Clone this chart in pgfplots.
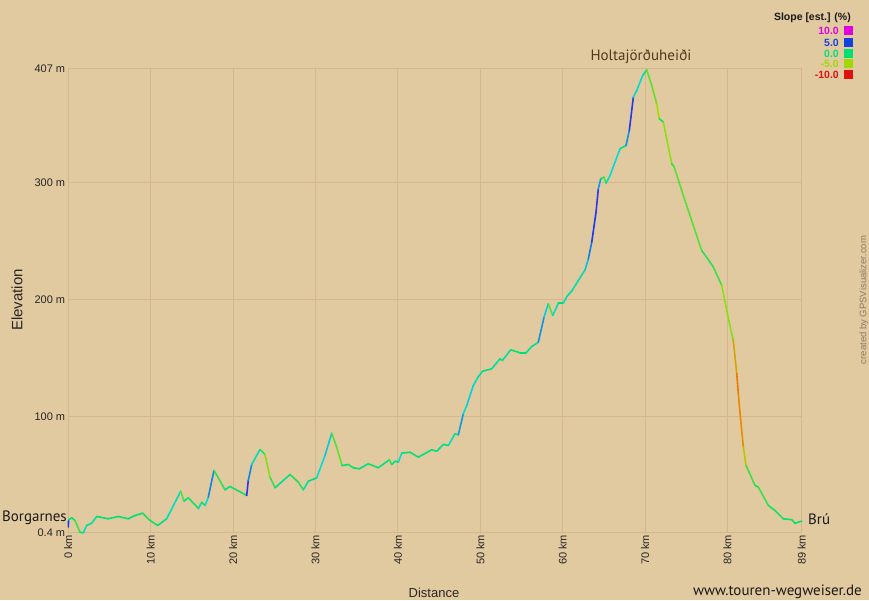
\documentclass[border=0pt]{standalone}
\usepackage{pgfplots}
\pgfplotsset{compat=1.18}
\usepackage{pgfplotstable}
\usepackage{fontspec}
\setmainfont{Liberation Sans}
\newfontfamily\hum{PT Sans}
\definecolor{bgtan}{RGB}{226,202,160}
\definecolor{gridc}{RGB}{212,183,140}
\definecolor{lgmag}{RGB}{224,0,224}
\definecolor{lgblue}{RGB}{20,64,224}
\definecolor{lggreen}{RGB}{0,224,112}
\definecolor{lgyg}{RGB}{160,216,0}
\definecolor{lgred}{RGB}{224,16,16}
\definecolor{brownt}{RGB}{80,56,30}
\definecolor{credit}{RGB}{140,124,100}

\pgfplotstableread{
x y s
0.00 5.4 4.5
0.04 11.5 0.5
0.41 13.3 -0.6
0.81 11.0 -1.7
1.42 0.9 -0.1
1.82 0.4 1.5
2.23 6.7 0.3
2.84 8.6 0.9
3.45 14.4 -0.1
4.85 12.4 0.2
6.07 14.4 -0.2
7.28 12.4 0.3
8.09 15.2 0.2
9.03 17.2 -0.7
9.92 11.0 -0.5
10.85 6.7 0.5
11.94 12.4 1.4
13.64 36.0 -2.1
14.04 27.5 0.6
14.56 30.4 -0.7
15.58 22.9 -1.0
15.78 21.0 1.4
16.19 26.6 -0.7
16.59 23.8 1.8
16.99 30.9 3.3
17.68 53.8 -1.2
18.20 47.5 -1.3
19.02 37.2 0.5
19.62 40.1 -0.4
21.65 32.4 5.2
21.84 45.2 3.3
22.26 58.9 1.3
23.26 71.7 -0.7
23.87 67.5 -3.2
24.48 48.0 -1.5
25.09 39.0 0.6
26.91 50.3 -0.7
27.91 43.8 -1.1
28.52 37.2 1.2
29.13 44.6 0.3
30.15 47.5 1.9
31.15 66.6 2.3
31.97 85.7 -2.0
32.57 73.7 -2.4
33.22 58.0 0.1
33.98 58.9 -0.5
34.59 56.1 -0.1
35.32 55.2 0.4
36.41 59.5 -0.3
37.62 56.1 0.5
38.96 62.9 -1.4
39.25 58.9 0.7
39.65 61.7 -0.2
40.05 60.9 1.9
40.46 68.6 0.1
41.47 69.4 -0.4
42.48 65.2 0.4
44.10 71.5 -0.2
44.71 70.3 0.7
45.51 76.0 -0.1
46.12 75.2 1.2
46.93 85.2 -0.2
47.33 84.3 3.0
47.94 102.3 1.7
48.35 109.4 2.2
48.75 118.0 2.1
49.15 126.5 1.3
49.76 134.2 0.9
50.29 138.8 0.2
51.38 140.8 0.9
52.39 149.4 -0.5
52.67 147.9 0.9
53.69 157.1 -0.2
54.82 154.5 0.0
55.55 154.5 0.8
56.24 159.9 0.5
57.04 163.6 3.1
57.73 185.0 2.2
58.25 196.5 -1.9
58.79 186.5 1.5
59.47 197.0 0.0
60.07 197.0 1.4
60.49 202.7 0.8
61.09 207.3 1.1
61.89 216.4 1.1
62.71 225.6 2.4
63.11 235.0 3.5
63.52 249.2 4.6
64.04 274.9 5.3
64.32 294.9 3.0
64.61 303.5 0.4
65.01 304.9 -2.1
65.26 299.7 1.4
65.74 306.3 1.9
66.95 329.2 0.4
67.68 332.0 3.2
68.08 344.9 5.0
68.57 373.4 1.4
68.98 379.1 1.8
69.71 392.0 1.0
70.19 396.8 -2.2
70.80 383.4 -2.6
71.41 367.7 -4.1
71.72 354.9 -0.6
72.21 352.0 -3.5
73.23 316.4 -0.9
73.51 314.0 -2.2
74.44 293.5 -2.1
75.24 276.4 -2.1
75.78 265.0 -2.1
76.87 242.1 -1.0
77.88 232.1 -1.1
78.28 227.8 -1.5
79.30 212.2 -3.6
79.90 190.8 -3.3
80.51 170.8 -3.0
80.70 165.1 -6.0
81.12 136.6 -7.3
81.31 119.4 -7.0
81.60 96.6 -6.8
81.92 73.7 -4.8
82.25 58.0 -1.6
83.34 40.9 -0.4
83.74 39.5 -1.3
84.95 23.8 -0.5
85.76 19.5 -0.7
86.77 12.4 -0.1
87.79 11.6 -0.8
88.19 8.6 0.2
89.00 10.4 0
}\profile

\begin{document}
\begin{tikzpicture}[x=1pt,y=1pt]
\fill[bgtan] (0,0) rectangle (869,600);
\useasboundingbox (0,0) rectangle (869,600);
\begin{axis}[
  at={(68.3pt,67.2pt)}, anchor=south west,
  scale only axis, width=733.4pt, height=464pt,
  xmin=0, xmax=89, ymin=0.4, ymax=397.7,
  axis line style={gridc, line width=1pt},
  grid=major, major grid style={gridc, line width=1pt},
  major tick length=0pt,
  xtick={0,10,20,30,40,50,60,70,80,89},
  xticklabels={0 km,10 km,20 km,30 km,40 km,50 km,60 km,70 km,80 km,89 km},
  ytick={0.4,100,200,300,397.7},
  yticklabels={0.4 m,100 m,200 m,300 m,407 m},
  xticklabel style={rotate=90, anchor=east, font=\fontsize{11}{13}\selectfont, text=black!85, inner sep=2pt},
  yticklabel style={anchor=east, font=\fontsize{11}{13}\selectfont, text=black!85, inner sep=3pt},
  colormap={slope}{rgb255(0cm)=(230,0,0) rgb255(3cm)=(235,135,0) rgb255(6cm)=(160,224,0) rgb255(10cm)=(0,224,112) rgb255(12cm)=(0,220,220) rgb255(14.5cm)=(20,60,240) rgb255(20cm)=(224,0,224)},
  point meta min=-10, point meta max=10,
  clip=false,
]
\addplot[mesh, shader=flat corner, line width=1.6pt, line cap=round, line join=round, point meta=explicit] table[x=x, y=y, meta=s] {\profile};
\end{axis}
% texts
\node[rotate=90, font=\fontsize{15}{17}\selectfont, text=black!85] at (17,300) {Elevation};
\node[font=\fontsize{13}{15}\selectfont, text=black!85] at (434,7) {Distance};
\node[anchor=east, font=\hum\fontsize{15}{17}\selectfont, text=black!90, inner sep=0pt] at (67,82) {Borgarnes};
\node[anchor=west, font=\hum\fontsize{15}{17}\selectfont, text=black!90, inner sep=0pt] at (808,81) {Brú};
\node[font=\hum\fontsize{15}{17}\selectfont, text=brownt] at (641,543) {Holtajörðuheiði};
\node[anchor=east, font=\hum\fontsize{15}{17}\selectfont, text=black!90, inner sep=0pt] at (862,8) {www.touren-wegweiser.de};
\node[rotate=90, font=\fontsize{9.5}{11}\selectfont, text=credit] at (864,300) {created by GPSVisualizer.com};
% slope legend
\node[anchor=east, font=\bfseries\fontsize{10.5}{12}\selectfont, text=black!90, inner sep=0pt] at (851,582) {Slope [est.] (\%)};
\foreach \yy/\cc/\tt in {569/lgmag/10.0, 557.5/lgblue/5.0, 546.5/lggreen/0.0, 536/lgyg/-5.0, 525/lgred/-10.0}{
  \node[anchor=east, font=\bfseries\fontsize{10.5}{12}\selectfont, text=\cc, inner sep=0pt] at (839,\yy) {\tt};
  \fill[\cc] (844,\yy-4.5) rectangle (852.5,\yy+4.5);
}
\end{tikzpicture}
\end{document}
